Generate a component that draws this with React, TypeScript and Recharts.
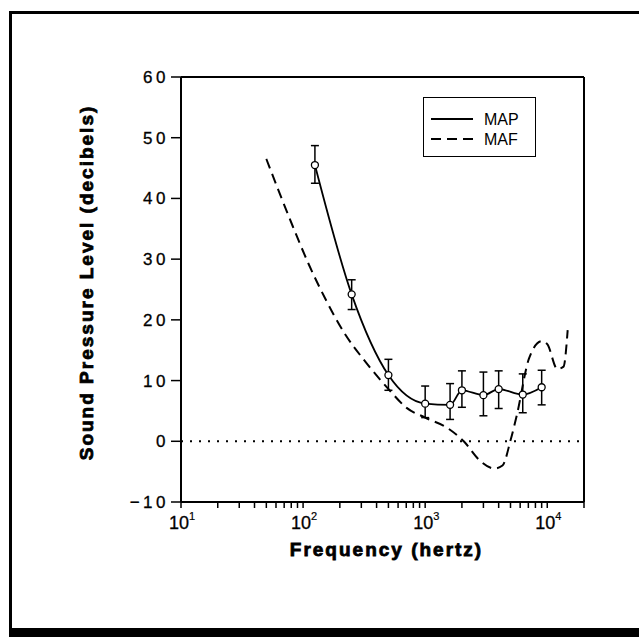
import { ErrorBar, Legend, Line, LineChart, ReferenceLine, XAxis, YAxis } from 'recharts';

// MAP: measured points with error bars
const mapFreq = [125, 250, 500, 1000, 1600, 2000, 3000, 4000, 6300, 9000];
const mapLevel = [45.5, 24.2, 10.9, 6.2, 6.0, 8.4, 7.6, 8.6, 7.7, 8.9];
const mapErrLow = [3.0, 2.5, 2.5, 2.3, 2.4, 2.8, 3.4, 3.2, 3.0, 2.9];
const mapErrHigh = [3.2, 2.4, 2.6, 2.9, 3.5, 3.2, 3.8, 3.0, 3.4, 2.8];

// MAF: reference curve (dashed)
const mafFreq = [50, 82, 111, 151, 223, 327, 511, 705, 1000, 1520, 2070, 2810, 3700, 4300, 5010, 5620, 7080, 9000, 10000, 12100, 13600, 14700];
const mafLevel = [46.5, 35.5, 29.2, 23.6, 17.5, 13.0, 8.4, 5.5, 3.9, 2.2, 0.0, -3.2, -4.5, -4.0, 0.2, 4.2, 13.6, 16.5, 16.0, 11.9, 12.3, 18.3];

const xTicks = [
  10, 20, 30, 40, 50, 60, 70, 80, 90,
  100, 200, 300, 400, 500, 600, 700, 800, 900,
  1000, 2000, 3000, 4000, 5000, 6000, 7000, 8000, 9000,
  10000, 20000,
];
const yTicks = [-10, 0, 10, 20, 30, 40, 50, 60];

const seriesNames = ['MAP', 'MAF'];
const dashes: Record<string, string | undefined> = { MAP: undefined, MAF: '10 6' };

const mapData = mapFreq.map((f, i) => ({
  freq: f,
  level: mapLevel[i],
  err: [mapErrLow[i], mapErrHigh[i]],
}));
const mafData = mafFreq.map((f, i) => ({ freq: f, level: mafLevel[i] }));

const FONT = '"Liberation Sans", Arial, Helvetica, sans-serif';

function XTick(props: any) {
  const { x, y, payload } = props;
  const exp = Math.log10(payload.value);
  if (Math.abs(exp - Math.round(exp)) > 1e-6) return null;
  return (
    <text x={x - 12} y={y + 21} fontFamily={FONT} fontSize={18} fill="#000" stroke="#000" strokeWidth={0.3}>
      10
      <tspan dy={-9} fontSize={11} strokeWidth={0.2}>
        {Math.round(exp)}
      </tspan>
    </text>
  );
}

function renderLegend() {
  return (
    <div
      style={{
        width: 113,
        height: 60,
        boxSizing: 'border-box',
        border: '1.5px solid #000',
        background: '#fff',
      }}
    >
      <svg width={110} height={57} style={{ display: 'block' }}>
        {seriesNames.map((name, i) => (
          <g key={name}>
            <line
              x1={7}
              x2={49}
              y1={21 + i * 20}
              y2={21 + i * 20}
              stroke="#000"
              strokeWidth={2}
              strokeDasharray={dashes[name]}
            />
            <text x={60} y={27 + i * 20} fontFamily={FONT} fontSize={16} fill="#000">
              {name}
            </text>
          </g>
        ))}
      </svg>
    </div>
  );
}

export default function App() {
  return (
    <div
      style={{
        position: 'absolute',
        left: 0,
        top: 0,
        width: 639,
        height: 637,
        overflow: 'hidden',
        background: '#fff',
      }}
    >
      <div
        style={{
          position: 'absolute',
          left: 9,
          top: 11,
          width: 700,
          height: 627,
          boxSizing: 'border-box',
          borderLeft: '3px solid #000',
          borderTop: '3px solid #000',
          borderBottom: '10px solid #000',
        }}
      />
      <div style={{ position: 'absolute', left: 0, top: 0 }}>
        <LineChart width={639} height={637} margin={{ top: 77, right: 55, bottom: 75, left: 121 }}>
          <XAxis
            dataKey="freq"
            type="number"
            scale="log"
            domain={[10, 20000]}
            allowDataOverflow
            ticks={xTicks}
            interval={0}
            height={60}
            tickSize={6}
            tickMargin={0}
            tick={<XTick />}
            axisLine={{ stroke: '#000', strokeWidth: 2 }}
            tickLine={{ stroke: '#000', strokeWidth: 1.5 }}
            label={{
              content: (p: any) => {
                const vb = p.viewBox;
                return (
                  <text
                    x={vb.x + vb.width / 2 + 4}
                    y={vb.y + 54}
                    textAnchor="middle"
                    fontFamily={FONT}
                    fontWeight="bold"
                    fontSize={19}
                    letterSpacing={2}
                    stroke="#000"
                    strokeWidth={0.8}
                    fill="#000"
                  >
                    Frequency (hertz)
                  </text>
                );
              },
            }}
          />
          <YAxis
            type="number"
            domain={[-10, 60]}
            ticks={yTicks}
            interval={0}
            width={60}
            tickSize={10}
            tickMargin={2}
            tickFormatter={(v: number) => (v < 0 ? `\u2212${Math.abs(v)}` : String(v))}
            tick={{ fill: '#000', stroke: '#000', strokeWidth: 0.3, fontSize: 17, fontFamily: FONT, letterSpacing: 3.5 }}
            axisLine={{ stroke: '#000', strokeWidth: 2 }}
            tickLine={{ stroke: '#000', strokeWidth: 1.5 }}
            label={{
              content: (p: any) => {
                const vb = p.viewBox;
                const cx = vb.x - 35;
                const cy = vb.y + vb.height / 2 - 7;
                return (
                  <text
                    transform={`translate(${cx},${cy}) rotate(-90)`}
                    textAnchor="middle"
                    dominantBaseline="central"
                    fontFamily={FONT}
                    fontWeight="bold"
                    fontSize={19}
                    letterSpacing={2}
                    stroke="#000"
                    strokeWidth={0.8}
                    fill="#000"
                  >
                    Sound Pressure Level (decibels)
                  </text>
                );
              },
            }}
          />
          <ReferenceLine y={60} stroke="#000" strokeWidth={2} />
          <ReferenceLine x={20000} stroke="#000" strokeWidth={2} />
          <ReferenceLine y={0} stroke="#000" strokeWidth={2} strokeDasharray="2 7" />
          <Legend
            layout="vertical"
            align="center"
            verticalAlign="middle"
            content={renderLegend}
            wrapperStyle={{ position: 'absolute', left: 423, top: 97, width: 113, height: 60 }}
          />
          <Line
            name="MAF"
            data={mafData}
            dataKey="level"
            type="monotone"
            stroke="#000"
            strokeWidth={2}
            strokeDasharray="10 6"
            dot={false}
            activeDot={false}
            isAnimationActive={false}
          />
          <Line
            name="MAP"
            data={mapData}
            dataKey="level"
            type="monotone"
            stroke="#000"
            strokeWidth={1.8}
            dot={{ r: 3.5, fill: '#fff', stroke: '#000', strokeWidth: 1.3 }}
            activeDot={false}
            isAnimationActive={false}
          >
            <ErrorBar dataKey="err" direction="y" width={4} stroke="#000" strokeWidth={1.5} />
          </Line>
        </LineChart>
      </div>
    </div>
  );
}
